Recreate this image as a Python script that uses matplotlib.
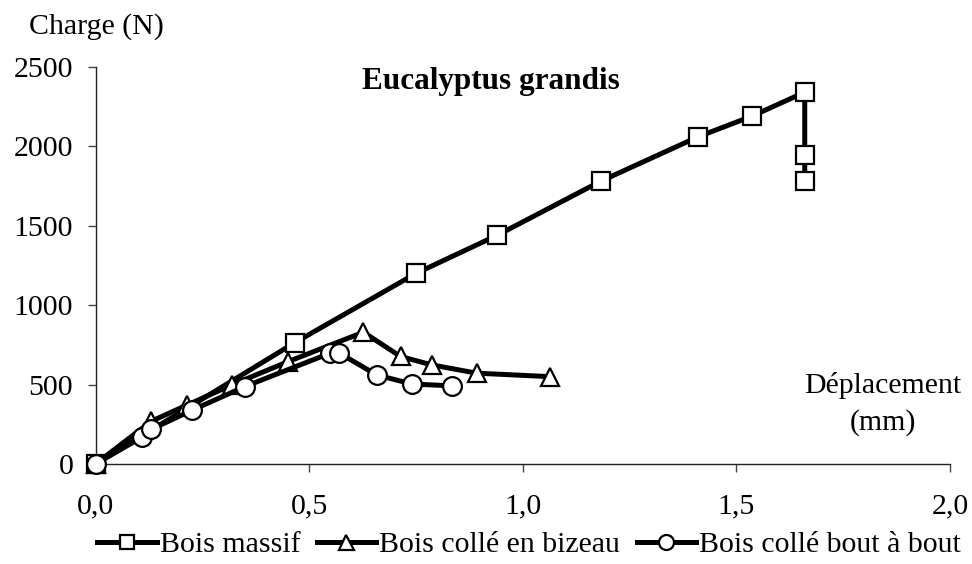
import matplotlib
matplotlib.use("Agg")
import matplotlib.pyplot as plt
from matplotlib.ticker import FixedLocator

plt.rcParams['font.family'] = ['Liberation Serif', 'DejaVu Serif']

# Load-displacement data (displacement in mm, load in N)
massif_x = [0.0, 0.467, 0.75, 0.94, 1.182, 1.41, 1.536, 1.66, 1.66, 1.66]
massif_y = [0, 765, 1200, 1440, 1780, 2060, 2190, 2341, 1948, 1780]

bizeau_x = [0.0, 0.131, 0.215, 0.319, 0.451, 0.627, 0.714, 0.787, 0.892, 1.064]
bizeau_y = [0, 270, 372, 498, 645, 830, 677, 624, 572, 550]

bout_x = [0.0, 0.108, 0.131, 0.227, 0.35, 0.549, 0.571, 0.658, 0.74, 0.834]
bout_y = [0, 168, 219, 340, 488, 698, 698, 561, 504, 492]

x_ticks = [0.0, 0.5, 1.0, 1.5, 2.0]
x_tick_labels = ["0,0", "0,5", "1,0", "1,5", "2,0"]
y_ticks = [0, 500, 1000, 1500, 2000, 2500]

series_labels = ["Bois massif", "Bois collé en bizeau", "Bois collé bout à bout"]

FS = 21.5

fig = plt.figure(figsize=(9.72, 5.64), dpi=100)
ax = fig.add_axes([95.5 / 972, 1 - 464 / 564, (950 - 95.5) / 972, (464 - 67) / 564])

common = dict(color='black', lw=3.6, mfc='white', mec='black', mew=1.6, clip_on=False)
h1, = ax.plot(massif_x, massif_y, marker='s', ms=12.5, label=series_labels[0], zorder=3, **common)
h2, = ax.plot(bizeau_x, bizeau_y, marker='^', ms=13.5, label=series_labels[1], zorder=4, **common)
h3, = ax.plot(bout_x, bout_y, marker='o', ms=13.5, label=series_labels[2], zorder=5, **common)

ax.set_xlim(0, 2.0)
ax.set_ylim(0, 2500)
ax.xaxis.set_major_locator(FixedLocator(x_ticks))
ax.set_xticklabels(x_tick_labels)
ax.yaxis.set_major_locator(FixedLocator(y_ticks))

for s in ('top', 'right'):
    ax.spines[s].set_visible(False)
for s in ('left', 'bottom'):
    ax.spines[s].set_linewidth(1.0)
    ax.spines[s].set_color('#222222')

ax.tick_params(axis='both', direction='out', length=6, width=1.0, color='#444444',
               labelsize=FS)
ax.tick_params(axis='x', pad=15)
ax.tick_params(axis='y', pad=10)

fig.text(491 / 972, 1 - 82 / 564, "Eucalyptus grandis", ha='center', va='center',
         fontsize=22.5, fontweight='bold')
fig.text(96 / 972, 1 - 27 / 564, "Charge (N)", ha='center', va='center', fontsize=FS)
fig.text(883 / 972, 1 - 404 / 564, "Déplacement\n(mm)", ha='center', va='center',
         fontsize=FS, linespacing=1.45)

fig.legend(handles=[h1, h2, h3], loc='center', bbox_to_anchor=(529 / 972, 1 - 545 / 564),
           ncol=3, frameon=False, fontsize=FS, handlelength=2.0, handletextpad=0.1,
           columnspacing=0.55, borderpad=0, markerscale=0.8)

fig.savefig("out.png", dpi=100)
